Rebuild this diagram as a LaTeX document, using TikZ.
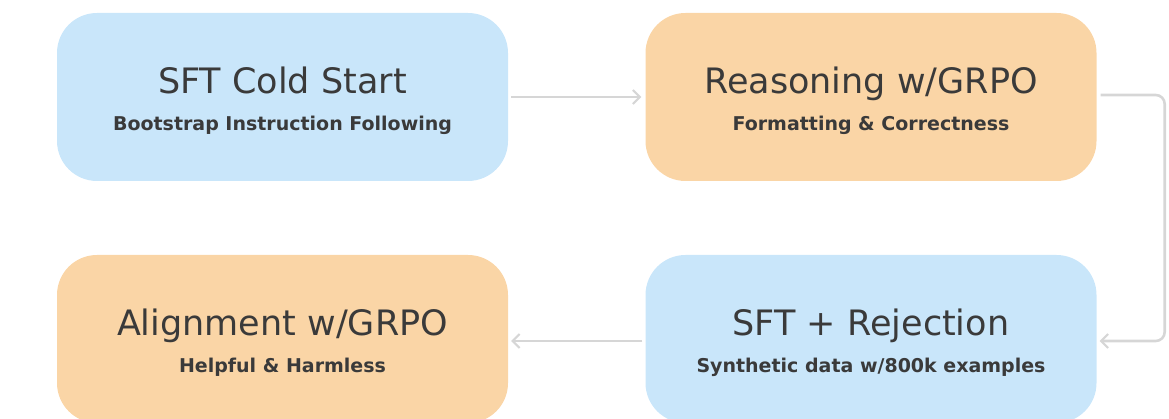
\documentclass[tikz,border=0pt]{standalone}
\usepackage{fontspec}
\setmainfont{DejaVu Sans}
\usepackage{xcolor}
\usepackage{tikz}
\usetikzlibrary{arrows.meta,calc,positioning}

\definecolor{stageblue}{HTML}{C9E6FA}
\definecolor{stageorange}{HTML}{FAD5A6}
\definecolor{stagetext}{HTML}{3A3A3A}
\definecolor{flowgray}{HTML}{D6D6D6}

\begin{document}
\begin{tikzpicture}[x=1pt,y=1pt,
    stagebox/.style={rounded corners=40pt,minimum width=451pt,minimum height=168pt,inner sep=0pt},
    stagetitle/.style={anchor=base,text=stagetext,font=\fontsize{35}{40}\selectfont},
    stagesub/.style={anchor=base,text=stagetext,font=\fontsize{19}{22}\selectfont\bfseries},
    flow/.style={draw=flowgray,line width=2.6pt,-{Straight Barb[length=7pt,width=14pt,line width=2pt]}}]
  \useasboundingbox (0,0) rectangle (1169,419);
  \clip (0,0) rectangle (1169,419);
  % stages
  \node[stagebox,fill=stageblue] (cold) at (282.5,322) {};
  \node[stagebox,fill=stageorange] (reason) at (871,322) {};
  \node[stagebox,fill=stageblue] (reject) at (871,80) {};
  \node[stagebox,fill=stageorange] (align) at (282.5,80) {};
  % labels
  \node[stagetitle] (coldtitle) at ([yshift=3pt]cold.center) {SFT Cold Start};
  \node[stagesub] (coldsub) at ([yshift=-34pt]cold.center) {Bootstrap Instruction Following};
  \node[stagetitle] (reasontitle) at ([yshift=3pt]reason.center) {Reasoning w/GRPO};
  \node[stagesub] (reasonsub) at ([yshift=-34pt]reason.center) {Formatting \& Correctness};
  \node[stagetitle] (rejecttitle) at ([yshift=3pt]reject.center) {SFT + Rejection};
  \node[stagesub] (rejectsub) at ([yshift=-34pt]reject.center) {Synthetic data w/800k examples};
  \node[stagetitle] (aligntitle) at ([yshift=3pt]align.center) {Alignment w/GRPO};
  \node[stagesub] (alignsub) at ([yshift=-34pt]align.center) {Helpful \& Harmless};
  % connectors
  \draw[flow] ([xshift=3pt]cold.east) -- ([xshift=-4pt]reason.west);
  \draw[flow,rounded corners=9pt] ([xshift=4pt,yshift=2pt]reason.east) -- ++(64pt,0) |- ([xshift=3pt,yshift=-2pt]reject.east);
  \draw[flow] ([xshift=-3pt,yshift=-2pt]reject.west) -- ([xshift=3pt,yshift=-2pt]align.east);
\end{tikzpicture}
\end{document}
